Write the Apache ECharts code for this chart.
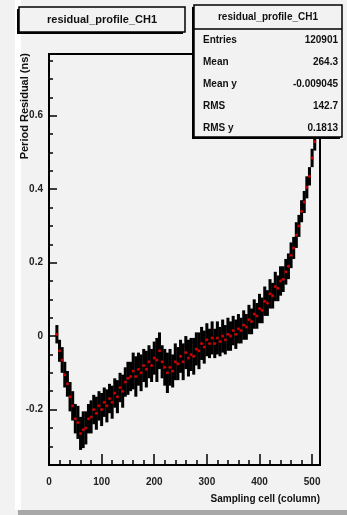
<!DOCTYPE html>
<html>
<head>
<meta charset="UTF-8"/>
<title>residual_profile_CH1</title>
<script src="https://cdn.jsdelivr.net/npm/echarts@6.0.0/dist/echarts.min.js"></script>
<style>
    html, body { margin: 0; padding: 0; background: #f2f2f2; }
    #chart { width: 347px; height: 515px; }
</style>
</head>
<body>
<div id="chart"></div>
<script>
    // profile bins (column), mean residual and error
    const columns = [15, 20, 25, 30, 35, 40, 45, 50, 55, 60, 65, 70, 75, 80, 85, 90, 95,
        100, 105, 110, 115, 120, 125, 130, 135, 140, 145, 150, 155, 160, 165, 170, 175, 180, 185, 190, 195,
        200, 205, 210, 215, 220, 225, 230, 235, 240, 245, 250, 255, 260, 265, 270, 275, 280, 285, 290, 295,
        300, 305, 310, 315, 320, 325, 330, 335, 340, 345, 350, 355, 360, 365, 370, 375, 380, 385, 390, 395,
        400, 405, 410, 415, 420, 425, 430, 435, 440, 445, 450, 455, 460, 465, 470, 475, 480, 485, 490, 495,
        500, 505];
    const residuals = [0.005, -0.04, -0.065, -0.105, -0.13, -0.165, -0.19, -0.225, -0.235, -0.265, -0.255, -0.25, -0.225, -0.22, -0.2, -0.21, -0.19,
        -0.2, -0.18, -0.19, -0.17, -0.18, -0.155, -0.165, -0.14, -0.15, -0.125, -0.115, -0.11, -0.095, -0.11, -0.09, -0.1, -0.08, -0.09, -0.07, -0.08,
        -0.06, -0.065, -0.04, -0.07, -0.085, -0.1, -0.085, -0.095, -0.07, -0.075, -0.055, -0.07, -0.045, -0.06, -0.05, -0.055, -0.035, -0.04, -0.02, -0.03,
        -0.01, -0.02, -0.005, -0.02, -0.005, -0.015, 0.0, -0.01, 0.005, 0.0, 0.015, 0.005, 0.02, 0.015, 0.03, 0.025, 0.045, 0.04, 0.06, 0.055,
        0.075, 0.07, 0.095, 0.09, 0.115, 0.11, 0.135, 0.13, 0.15, 0.155, 0.175, 0.19, 0.22, 0.24, 0.275, 0.3, 0.34, 0.365, 0.405, 0.435,
        0.485, 0.53];
    const errors = [0.025, 0.03, 0.035, 0.035, 0.035, 0.04, 0.04,
        0.04, 0.045, 0.045, 0.05, 0.045, 0.04, 0.045, 0.04, 0.045, 0.04,
        0.045, 0.04, 0.045, 0.04, 0.045, 0.04, 0.045, 0.04, 0.045, 0.04,
        0.045, 0.04, 0.05, 0.055, 0.045, 0.05, 0.045, 0.05, 0.045, 0.045,
        0.045, 0.06, 0.05, 0.045, 0.05, 0.055, 0.05, 0.045, 0.05, 0.045,
        0.045, 0.05, 0.045, 0.05, 0.045, 0.05, 0.045, 0.05, 0.045, 0.045,
        0.045, 0.04, 0.045, 0.04, 0.045, 0.04, 0.045, 0.04, 0.045, 0.04,
        0.04, 0.04, 0.04, 0.035, 0.04, 0.035, 0.04, 0.035, 0.04, 0.035,
        0.04, 0.035, 0.04, 0.035, 0.04, 0.035, 0.04, 0.035, 0.04, 0.035,
        0.035, 0.035, 0.035, 0.03, 0.035, 0.03, 0.03, 0.03, 0.03, 0.025,
        0.025, 0.025];
    const binWidth = 5;

    const xMajorTicks = [0, 100, 200, 300, 400, 500];
    const xMinorTicks = [20, 40, 60, 80, 120, 140, 160, 180, 220, 240, 260, 280, 320, 340, 360, 380, 420, 440, 460, 480];
    const yMajorTicks = [-0.2, 0, 0.2, 0.4, 0.6];
    const yMinorTicks = [-0.3, -0.25, -0.15, -0.1, -0.05, 0.05, 0.1, 0.15, 0.25, 0.3, 0.35, 0.45, 0.5, 0.55, 0.65, 0.7, 0.75];

    const statNames = ['Entries', 'Mean', 'Mean y', 'RMS', 'RMS y'];
    const statValues = ['120901', '264.3', '-0.009045', '142.7', '0.1813'];

    const FONT = '"Liberation Sans", Arial, sans-serif';
    const chart = echarts.init(document.getElementById('chart'));

    const points = columns.map((c, i) => [c, residuals[i], errors[i]]);

    const labelStyle = { color: '#222', fontSize: 10, fontWeight: 'bold', fontFamily: FONT };
    const xRange = { min: 0, max: 515 };
    const yRange = { min: -0.351, max: 0.768 };

    // stats box rows
    const statGraphics = [];
    statNames.forEach((n, i) => {
        const y = 40 + i * 22;
        statGraphics.push({ type: 'text', x: 203, y: y, z: 102, style: { text: n, font: 'bold 10px ' + FONT, fill: '#111', textVerticalAlign: 'middle' } });
        statGraphics.push({ type: 'text', x: 338, y: y, z: 102, style: { text: statValues[i], font: 'bold 10px ' + FONT, fill: '#111', textAlign: 'right', textVerticalAlign: 'middle' } });
    });

    chart.setOption({
        backgroundColor: '#f2f2f2',
        animation: false,
        grid: { left: 49, right: 27, top: 54, bottom: 50, show: true, borderColor: '#000', borderWidth: 2, backgroundColor: 'transparent' },
        xAxis: [{
            type: 'value', ...xRange, interval: 100,
            axisLine: { onZero: false, lineStyle: { color: '#000', width: 2 } },
            axisTick: { inside: true, length: 11, customValues: xMajorTicks, lineStyle: { color: '#000', width: 1.5 } },
            axisLabel: { customValues: xMajorTicks, margin: 12, ...labelStyle },
            splitLine: { show: false }
        }, {
            type: 'value', ...xRange, position: 'bottom',
            axisLine: { show: false, onZero: false },
            axisTick: { inside: true, length: 5, customValues: xMinorTicks, lineStyle: { color: '#000', width: 1.5 } },
            axisLabel: { show: false },
            splitLine: { show: false }
        }],
        yAxis: [{
            type: 'value', ...yRange,
            axisLine: { show: true, onZero: false, lineStyle: { color: '#000', width: 2 } },
            axisTick: { show: true, inside: true, length: 8, customValues: yMajorTicks, lineStyle: { color: '#000', width: 1.5 } },
            axisLabel: { customValues: yMajorTicks, margin: 6, formatter: v => (Math.abs(v) < 1e-9 ? '0' : v.toFixed(1)), ...labelStyle },
            splitLine: { show: false }
        }, {
            type: 'value', ...yRange, position: 'left',
            axisLine: { show: false, onZero: false },
            axisTick: { show: true, inside: true, length: 4, customValues: yMinorTicks, lineStyle: { color: '#000', width: 1.5 } },
            axisLabel: { show: false },
            splitLine: { show: false }
        }],
        series: [{
            type: 'custom',
            data: points,
            z: 2,
            renderItem: function (params, api) {
                const x = api.value(0), y = api.value(1), e = api.value(2);
                const top = api.coord([x, y + e]);
                const bot = api.coord([x, y - e]);
                const w = api.size([binWidth, 0])[0] + 0.4;
                return {
                    type: 'rect',
                    shape: { x: top[0] - w / 2, y: top[1], width: w, height: bot[1] - top[1] },
                    style: { fill: '#000' }
                };
            }
        }, {
            type: 'scatter',
            data: points.map(p => [p[0], p[1]]),
            symbol: 'circle',
            symbolSize: 3,
            itemStyle: { color: '#ff0000' },
            z: 3
        }],
        graphic: [
            // canvas bevel
            { type: 'rect', shape: { x: 15, y: 0, width: 6, height: 510 }, style: { fill: '#ffffff' }, z: 0 },
            { type: 'rect', shape: { x: 18, y: 510, width: 329, height: 5 }, style: { fill: '#a8a8a8' }, z: 0 },
            // title box
            { type: 'rect', shape: { x: 17, y: 9, width: 166, height: 25 }, style: { fill: '#000' }, z: 100 },
            { type: 'rect', shape: { x: 19, y: 7, width: 166, height: 25 }, style: { fill: '#f2f2f2', stroke: '#000', lineWidth: 1.5 }, z: 101 },
            { type: 'text', x: 102, y: 19.5, z: 102, style: { text: 'residual_profile_CH1', font: 'bold 11px ' + FONT, fill: '#111', textAlign: 'center', textVerticalAlign: 'middle' } },
            // stats box
            { type: 'rect', shape: { x: 192, y: 7, width: 148, height: 132 }, style: { fill: '#000' }, z: 100 },
            { type: 'rect', shape: { x: 194, y: 5, width: 148, height: 132 }, style: { fill: '#f2f2f2', stroke: '#000', lineWidth: 1.5 }, z: 101 },
            { type: 'line', shape: { x1: 194, y1: 29, x2: 342, y2: 29 }, style: { stroke: '#000', lineWidth: 1.5 }, z: 102 },
            { type: 'text', x: 268, y: 17, z: 102, style: { text: 'residual_profile_CH1', font: 'bold 10px ' + FONT, fill: '#111', textAlign: 'center', textVerticalAlign: 'middle' } },
            ...statGraphics,
            // axis titles
            { type: 'text', x: 25, y: 53, rotation: Math.PI / 2, z: 50, style: { text: 'Period Residual (ns)', font: 'bold 11px ' + FONT, fill: '#111', textAlign: 'right', textVerticalAlign: 'middle' } },
            { type: 'text', x: 320, y: 499, z: 50, style: { text: 'Sampling cell (column)', font: 'bold 10px ' + FONT, fill: '#111', textAlign: 'right', textVerticalAlign: 'middle' } }
        ]
    });
</script>
</body>
</html>
